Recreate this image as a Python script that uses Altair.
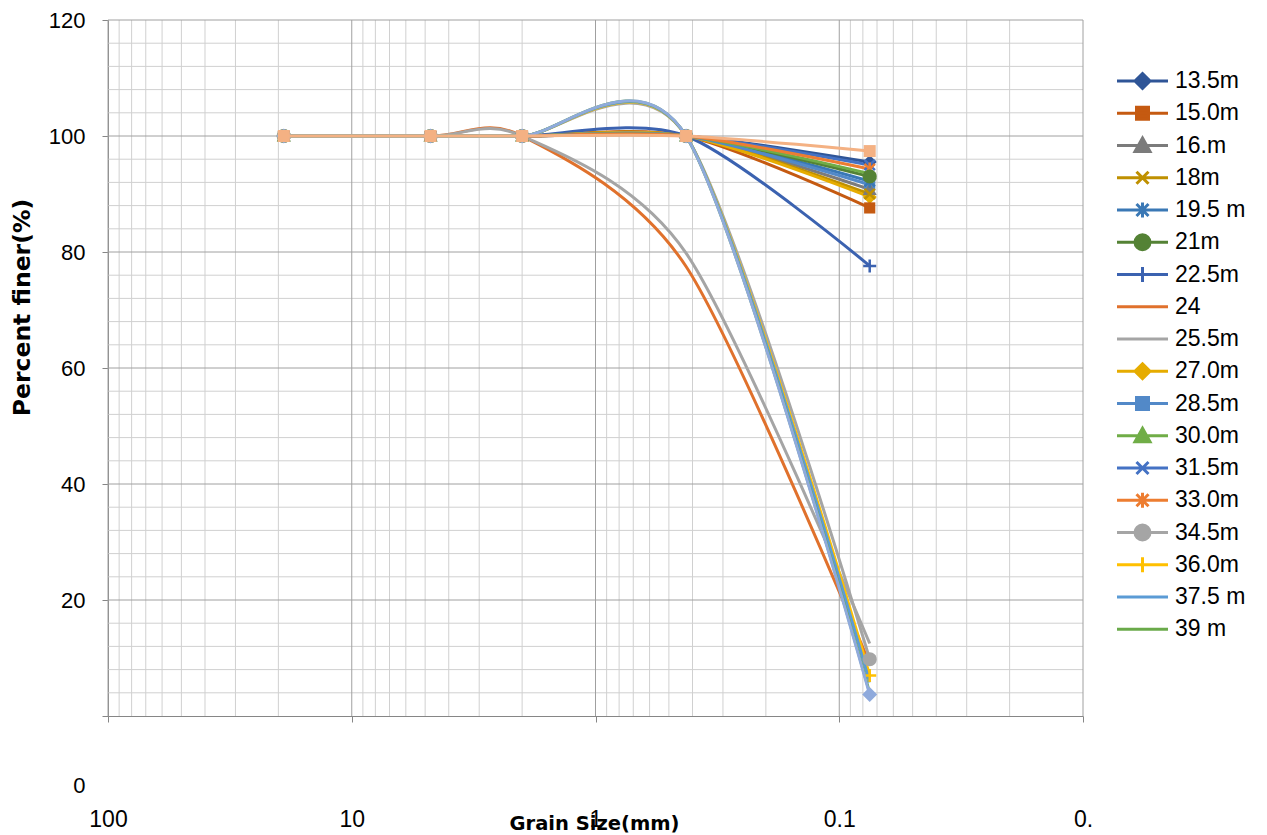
import altair as alt
import pandas as pd

# ---------------- data ----------------
grain_size_mm = [19.0, 4.75, 2.0, 0.425, 0.075]

series_labels = ["13.5m", "15.0m", "16.m", "18m", "19.5 m", "21m", "22.5m", "24", "25.5m",
                 "27.0m", "28.5m", "30.0m", "31.5m", "33.0m", "34.5m", "36.0m", "37.5 m", "39 m"]

finer_13_5 = [100, 100, 100, 100, 95.5]
finer_15_0 = [100, 100, 100, 100, 87.6]
finer_16 = [100, 100, 100, 100, 90.8]
finer_18 = [100, 100, 100, 100, 90.0]
finer_19_5 = [100, 100, 100, 100, 92.2]
finer_21 = [100, 100, 100, 100, 93.0]
finer_22_5 = [100, 100, 100, 100, 77.6]
finer_24 = [100, 100, 100, 77.5, 9.0]
finer_25_5 = [100, 100, 100, 79.8, 12.5]
finer_27_0 = [100, 100, 100, 100, 89.5]
finer_28_5 = [100, 100, 100, 100, 91.6]
finer_30_0 = [100, 100, 100, 100, 93.5]
finer_31_5 = [100, 100, 100, 100, 95.0]
finer_33_0 = [100, 100, 100, 100, 94.3]
finer_34_5 = [100, 100, 100, 100, 9.8]
finer_36_0 = [100, 100, 100, 100, 7.0]
finer_37_5 = [100, 100, 100, 100, 5.8]
finer_39 = [100, 100, 100, 100, 4.0]

# two further series drawn in the plot but cut off from the legend
finer_extra_a = [100, 100, 100, 100, 3.7]
finer_extra_b = [100, 100, 100, 100, 97.4]

series_values = [finer_13_5, finer_15_0, finer_16, finer_18, finer_19_5, finer_21,
                 finer_22_5, finer_24, finer_25_5, finer_27_0, finer_28_5, finer_30_0,
                 finer_31_5, finer_33_0, finer_34_5, finer_36_0, finer_37_5, finer_39]

series_colors = ["#2F5597", "#C55A11", "#7B7B7B", "#BF9000", "#3A78B5", "#548235",
                 "#3B62B0", "#E0712C", "#A5A5A5", "#E6AC00", "#5289C8", "#70AD47",
                 "#4472C4", "#ED7D31", "#A5A5A5", "#FFC000", "#5B9BD5", "#6AAA4A"]
series_markers = ["diamond", "square", "triangle", "x", "asterisk", "circle", "plus", "none", "none",
                  "diamond", "square", "triangle", "x", "asterisk", "circle", "plus", "none", "none"]

extra_colors = ["#8FAADC", "#F4B183"]
extra_markers = ["diamond", "square"]

x_tick_values = [100, 10, 1, 0.1, 0.01]
x_tick_labels = ["100", "10", "1", "0.1", "0."]
y_tick_values = [0, 20, 40, 60, 80, 100, 120]

x_minor_grid = [d * k for d in [0.01, 0.1, 1, 10] for k in range(2, 10)]
y_minor_grid = [v for v in range(4, 120, 4) if v % 20 != 0]

# ---------------- tables ----------------
rows = []
for name, vals in zip(series_labels, series_values):
    for i, (s, f) in enumerate(zip(grain_size_mm, vals)):
        rows.append({"series": name, "size": s, "finer": f, "idx": i})
df = pd.DataFrame(rows)

def extra_df(vals, name):
    return pd.DataFrame({"series": name, "size": grain_size_mm, "finer": vals,
                         "idx": list(range(len(vals)))})

# ---------------- marker shapes ----------------
def marker_path(kind, r):
    q = 0.8 * r
    if kind == "diamond":
        return f"M0,{-r}L{r},0L0,{r}L{-r},0Z"
    if kind == "square":
        return f"M{-q},{-q}H{q}V{q}H{-q}Z"
    if kind == "triangle":
        return f"M0,{-r}L{r},{q}L{-r},{q}Z"
    if kind == "x":
        return f"M{-q},{-q}L{q},{q}M{q},{-q}L{-q},{q}"
    if kind == "asterisk":
        return f"M{-q},{-q}L{q},{q}M{q},{-q}L{-q},{q}M0,{-r}V{r}"
    if kind == "circle":
        return f"M{-r},0A{r},{r} 0 1,0 {r},0A{r},{r} 0 1,0 {-r},0Z"
    if kind == "plus":
        return f"M{-r},0H{r}M0,{-r}V{r}"
    return ""

FILLED = {"diamond", "square", "triangle", "circle"}
LEG_HALF = 25.5          # half length of legend line (px)
LEG_MARK = 7.5 / LEG_HALF
legend_paths = []
for m in series_markers:
    p = "M-1,0H1"
    if m != "none":
        p += marker_path(m, round(LEG_MARK, 4))
    legend_paths.append(p)

# ---------------- scales / axes ----------------
x_scale = alt.Scale(type="log", domain=[0.01, 100], reverse=True, nice=False)
y_scale = alt.Scale(domain=[0, 120], nice=False, zero=False)
color_scale = alt.Scale(domain=series_labels, range=series_colors)

x_label_expr = "".join(f"datum.value == {v} ? '{l}' : " for v, l in zip(x_tick_values, x_tick_labels)) + "''"

x_axis = alt.Axis(values=x_tick_values, labelExpr=x_label_expr, grid=False,
                  domainColor="#868686", tickColor="#868686", tickSize=6,
                  labelPadding=86, labelFont="Liberation Sans", labelFontSize=23,
                  labelColor="black", labelOverlap=False, labelFlush=False,
                  title="Grain Size(mm)", titleFont="DejaVu Sans", titleFontWeight="bold",
                  titleFontSize=19.5, titleColor="black", titleX=486, titleY=107,
                  titleBaseline="middle", titleAlign="center")
y_axis = alt.Axis(values=y_tick_values, grid=False,
                  domainColor="#868686", tickColor="#868686", tickSize=6,
                  labelPadding=17, labelFont="Liberation Sans", labelFontSize=22,
                  labelColor="black", labelOverlap=False, labelFlush=False,
                  labelOffset={"condition": {"test": "datum.value === 0", "value": 69}, "value": 0},
                  title="Percent finer(%)", titleFont="DejaVu Sans", titleFontWeight="bold",
                  titleFontSize=23.5, titleColor="black", titleAngle=270,
                  titleX=-86, titleY=287, titleBaseline="middle", titleAlign="center")

legend = alt.Legend(title=None, orient="none", legendX=1007.5, legendY=45,
                    symbolSize=(2 * LEG_HALF) ** 2, symbolStrokeWidth=3,
                    labelFont="Liberation Sans", labelFontSize=23, labelColor="black",
                    clipHeight=32, rowPadding=0.25, labelOffset=5.5, padding=0,
                    symbolOpacity=1, symbolLimit=0)

X = alt.X("size:Q", scale=x_scale, axis=x_axis)
Y = alt.Y("finer:Q", scale=y_scale, axis=y_axis)
C = alt.Color("series:N", scale=color_scale, legend=legend)

# ---------------- layers ----------------
layers = []

# legend carrier (draws nothing)
layers.append(
    alt.Chart(df).transform_filter("false").mark_point(filled=True, opacity=1).encode(
        x=X, y=Y, color=C,
        shape=alt.Shape("series:N", scale=alt.Scale(domain=series_labels, range=legend_paths),
                        legend=legend))
)

# grid
layers.append(alt.Chart(pd.DataFrame({"size": x_minor_grid})).mark_rule(color="#D0D0D0", strokeWidth=1).encode(x=X))
layers.append(alt.Chart(pd.DataFrame({"finer": y_minor_grid})).mark_rule(color="#D0D0D0", strokeWidth=1).encode(y=Y))
layers.append(alt.Chart(pd.DataFrame({"size": x_tick_values})).mark_rule(color="#A0A0A0", strokeWidth=1).encode(x=X))
layers.append(alt.Chart(pd.DataFrame({"finer": y_tick_values[1:]})).mark_rule(color="#A0A0A0", strokeWidth=1).encode(y=Y))

# lines
layers.append(
    alt.Chart(df).mark_line(interpolate="cardinal", tension=0.15, strokeWidth=3).encode(
        x=X, y=Y, color=C, order="idx:Q")
)

# markers
for kind in ["diamond", "square", "triangle", "x", "asterisk", "circle", "plus"]:
    names = [n for n, m in zip(series_labels, series_markers) if m == kind]
    if not names:
        continue
    filled = kind in FILLED
    layers.append(
        alt.Chart(df).transform_filter(alt.FieldOneOfPredicate(field="series", oneOf=names))
        .mark_point(shape=marker_path(kind, 1), size=196 if filled else 169, filled=filled,
                    opacity=1, strokeWidth=0 if filled else 2.5)
        .encode(x=X, y=Y, color=C)
    )

# the two series outside the legend
for vals, col, mk, nm in zip([finer_extra_a, finer_extra_b], extra_colors, extra_markers, ["ex_a", "ex_b"]):
    edf = extra_df(vals, nm)
    layers.append(alt.Chart(edf).mark_line(interpolate="cardinal", tension=0.15, strokeWidth=3, color=col)
                  .encode(x=X, y=Y, order="idx:Q"))
    layers.append(alt.Chart(edf).mark_point(shape=marker_path(mk, 1), size=225, filled=True,
                                            opacity=1, color=col, strokeWidth=0)
                  .encode(x=X, y=Y))

chart = alt.layer(*layers).properties(
    width=975, height=696,
    padding={"left": 2, "top": 1, "right": 5, "bottom": 0},
).configure_view(stroke=None)

chart.save("out.html", embed_options={"renderer": "svg", "actions": False})
